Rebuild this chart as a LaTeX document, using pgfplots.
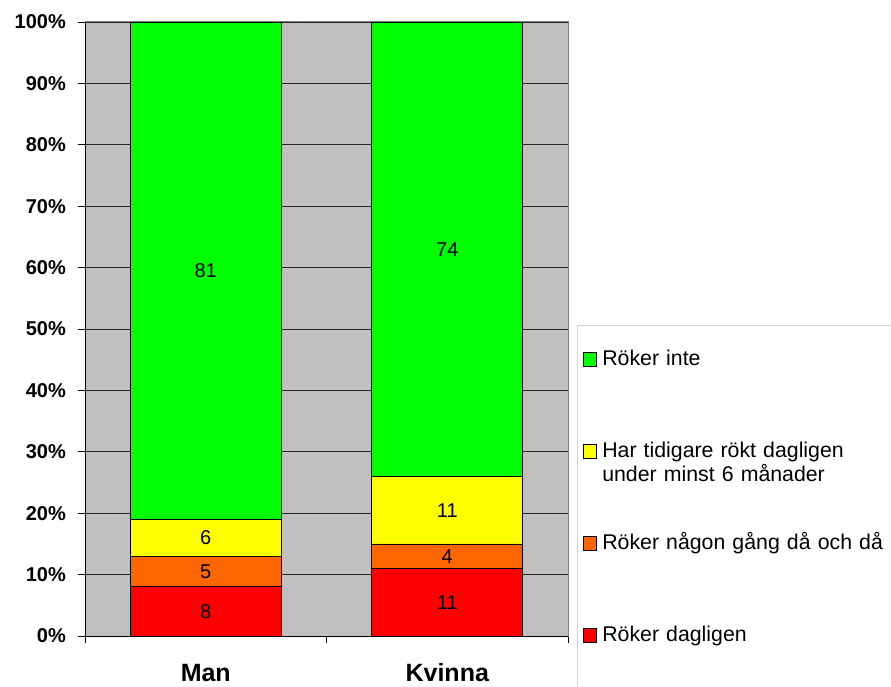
\documentclass[border=0pt]{standalone}
\usepackage{fontspec}
\setmainfont{Liberation Sans}
\usepackage{pgfplots}
\pgfplotsset{compat=1.18}
\definecolor{cgreen}{HTML}{00FF00}
\definecolor{cyellow}{HTML}{FFFF00}
\definecolor{corange}{HTML}{FF6600}
\definecolor{cred}{HTML}{FF0000}
\definecolor{plotbg}{HTML}{C0C0C0}
\definecolor{plotframe}{HTML}{808080}
\definecolor{legframe}{HTML}{D4D4D4}
\pgfplotsset{sq legend/.style={legend image code/.code={\draw[##1,draw=black,line width=0.8pt] (0pt,-1pt) rectangle (13pt,13pt);}}}
\begin{document}
\begin{tikzpicture}
\begin{axis}[
  at={(85pt,50pt)}, anchor=south west,
  scale only axis, width=483pt, height=614pt,
  ybar stacked, bar width=151pt,
  xmin=-0.5, xmax=1.5, ymin=0, ymax=100,
  xtick={-0.5,0.5,1.5}, xticklabels={},
  extra x ticks={0,1}, extra x tick labels={Man,Kvinna},
  extra x tick style={major tick length=0pt, tick label style={font=\fontsize{25}{28}\selectfont\bfseries, inner sep=0pt, text height=18pt, text depth=0pt, anchor=north, yshift=-27pt}},
  ytick={0,10,...,100},
  yticklabels={0\%,10\%,20\%,30\%,40\%,50\%,60\%,70\%,80\%,90\%,100\%},
  yticklabel style={font=\fontsize{20}{22}\selectfont\bfseries, inner sep=0pt, xshift=-12pt},
  xtick pos=bottom, ytick pos=left, tick align=outside, major tick length=7pt,
  tick style={black, line width=0.8pt},
  ymajorgrids, grid style={black!85, line width=0.8pt},
  axis background/.style={fill=plotbg},
  axis line style={draw=plotframe, line width=1pt},
  /pgf/number format/assume math mode=true,
  nodes near coords,
  every node near coord/.append style={anchor=center, font=\fontsize{20}{24}\selectfont, text=black},
  reverse legend,
  legend style={at={(1.0186,0.5065)}, anchor=north west, draw=legframe, line width=1pt,
    inner xsep=6pt, inner ysep=25.7pt, row sep=73pt, column sep=5pt,
    nodes={inner sep=0pt, text height=14pt, text depth=5pt, anchor=base west, text width=310pt, align=left, font=\fontsize{21.3}{24.6}\selectfont},
    cells={anchor=base west}},
]
\addplot[fill=cred, draw=black, line width=0.8pt, sq legend] coordinates {(0,8) (1,11)};
\addlegendentry[text depth=80pt]{Röker dagligen}
\addplot[fill=corange, draw=black, line width=0.8pt, sq legend] coordinates {(0,5) (1,4)};
\addlegendentry{Röker någon gång då och då}
\addplot[fill=cyellow, draw=black, line width=0.8pt, sq legend] coordinates {(0,6) (1,11)};
\addlegendentry{Har tidigare rökt dagligen\\under minst 6 månader}
\addplot[fill=cgreen, draw=black, line width=0.8pt, sq legend] coordinates {(0,81) (1,74)};
\addlegendentry{Röker inte}
\draw[black, line width=1pt] (axis cs:-0.5,100) -- (axis cs:-0.5,0) -- (axis cs:1.5,0);
\end{axis}
\pgfresetboundingbox
\path[use as bounding box] (0,0) rectangle (891pt,686pt);
\end{tikzpicture}
\end{document}
